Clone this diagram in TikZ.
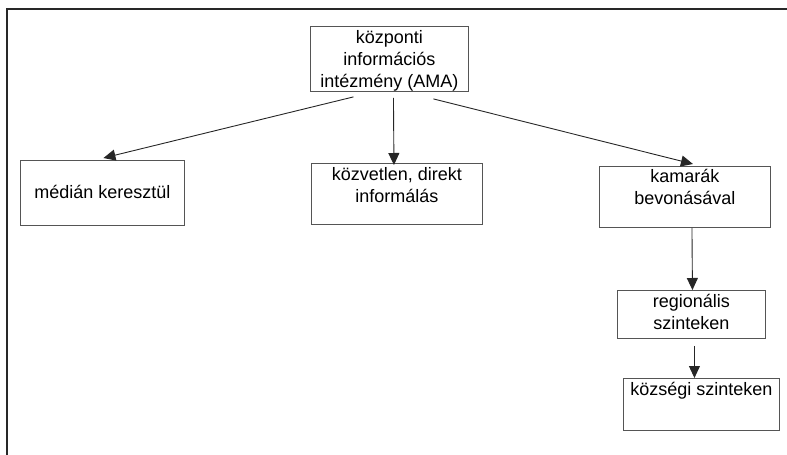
\documentclass[tikz,border=0pt]{standalone}
\usepackage{fontspec}
\setmainfont{Liberation Sans}
\definecolor{frameline}{RGB}{40, 40, 40}
\definecolor{boxline}{RGB}{85, 85, 85}
\usetikzlibrary{arrows.meta, positioning}

\begin{document}
\begin{tikzpicture}[
        x=1pt, y=-1pt,
        box/.style={rectangle, draw=boxline, line width=0.9pt, anchor=north west, inner xsep=2pt, inner ysep=0pt,
            text height=17pt, align=center, font=\fontsize{18}{22}\selectfont},
        arr/.style={draw=black!85, line width=0.9pt, -{Triangle[length=12pt, width=11pt]}}
    ]
        \useasboundingbox (0,0) rectangle (787,455);

        % Frame (top and left only)
        \draw[frameline, line width=1.6pt] (7,455) -- (7,9) -- (787,9);

        % Top node
        \node[box, minimum width=158pt, text height=61pt, text depth=4pt] (ama) at (310,26) {központi\\információs\\intézmény (AMA)};

        % Second row
        \node[box, minimum width=164pt, text height=38pt, text depth=27pt] (media) at (20,160) {médián keresztül};
        \node[box, minimum width=171pt, text height=39pt, text depth=22pt] (kozvetlen) at (311,163) {közvetlen, direkt\\informálás};
        \node[box, minimum width=171pt, text height=38pt, text depth=23pt] (kamara) at (599,166) {kamarák\\bevonásával};

        % Chamber branch
        \node[box, minimum width=148pt, text height=39pt, text depth=9pt] (regio) at (617,290) {regionális\\szinteken};
        \node[box, minimum width=156pt, text depth=35pt] (kozseg) at (623,378) {községi szinteken};

        % Connectors
        \draw[arr] ([xshift=-36pt, yshift=-5pt]ama.south) -- ([xshift=1pt, yshift=2pt]media.north);
        \draw[arr] ([xshift=4pt, yshift=-6pt]ama.south) -- ([xshift=-3pt, yshift=-2pt]kozvetlen.north);
        \draw[arr] ([xshift=44pt, yshift=-7pt]ama.south) -- ([xshift=8pt, yshift=2pt]kamara.north);
        \draw[arr] ([xshift=7pt]kamara.south) -- ([xshift=1pt]regio.north);
        \draw[arr] ([xshift=3pt, yshift=-7pt]regio.south) -- ([xshift=-7pt]kozseg.north);
    \end{tikzpicture}
\end{document}
